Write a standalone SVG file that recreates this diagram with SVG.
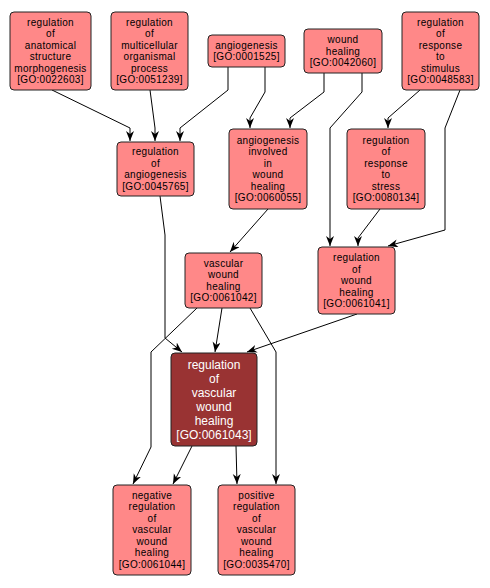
<svg xmlns="http://www.w3.org/2000/svg" width="490" height="588" viewBox="0 0 490 588">
<style>
.n rect{fill:#ff8888;stroke:#222;stroke-width:1}
.d rect{fill:#993333;stroke:#222;stroke-width:1}
.n text{font-family:"Liberation Sans",Arial,sans-serif;font-size:10px;fill:#000;text-anchor:middle;letter-spacing:0.3px}
.d text{font-family:"Liberation Sans",Arial,sans-serif;font-size:12px;fill:#fff;text-anchor:middle}
#edges path{fill:none;stroke:#000;stroke-width:1;marker-end:url(#ah)}
</style>
<defs>
<marker id="ah" markerUnits="userSpaceOnUse" markerWidth="12" markerHeight="10" refX="10" refY="4" orient="auto" viewBox="0 0 12 10">
<path d="M0,0 L10,4 L0,8 L3,4 z" fill="#000"/>
</marker>
</defs>
<rect width="490" height="588" fill="#fff"/>
<g id="edges">
<path d="M52,90 L130,128 L130,141"/>
<path d="M150,90 L155,128 L155,141"/>
<path d="M228,67 L228,90 L180,128 L180,141"/>
<path d="M265,67 L265,92 L250,118 L250,128"/>
<path d="M324,73 L324,92 L290,118 L290,128"/>
<path d="M362,73 L362,92 L330,128 L330,246"/>
<path d="M420,90 L388,118 L388,128"/>
<path d="M460,90 L445,128 L445,230 L388,246"/>
<path d="M380,209 L358,238 L358,246"/>
<path d="M268,209 L230,252"/>
<path d="M160,196 L165,235 L165,338 L182,352"/>
<path d="M222,308 L215,352"/>
<path d="M357,314 L247,352"/>
<path d="M197,308 L151,352 L151,447 L133,484"/>
<path d="M250,308 L276,352 L276,484"/>
<path d="M192,446 L173,484"/>
<path d="M236,446 L237,484"/>
</g>
<g id="n1" class="n"><rect x="10" y="12" width="81" height="78" rx="4"/>
<text x="50.5" y="25.75">regulation</text><text x="50.5" y="37.25">of</text><text x="50.5" y="48.75">anatomical</text><text x="50.5" y="60.25">structure</text><text x="50.5" y="71.75">morphogenesis</text><text x="50.5" y="83.25">[GO:0022603]</text></g>
<g id="n2" class="n"><rect x="111" y="12" width="77" height="78" rx="4"/>
<text x="149.5" y="25.75">regulation</text><text x="149.5" y="37.25">of</text><text x="149.5" y="48.75">multicellular</text><text x="149.5" y="60.25">organismal</text><text x="149.5" y="71.75">process</text><text x="149.5" y="83.25">[GO:0051239]</text></g>
<g id="n3" class="n"><rect x="208" y="35" width="77" height="32" rx="4"/>
<text x="246.5" y="48.75">angiogenesis</text><text x="246.5" y="60.25">[GO:0001525]</text></g>
<g id="n4" class="n"><rect x="304" y="29" width="78" height="44" rx="4"/>
<text x="343" y="43">wound</text><text x="343" y="54.5">healing</text><text x="343" y="66">[GO:0042060]</text></g>
<g id="n5" class="n"><rect x="402" y="12" width="77" height="78" rx="4"/>
<text x="440.5" y="25.75">regulation</text><text x="440.5" y="37.25">of</text><text x="440.5" y="48.75">response</text><text x="440.5" y="60.25">to</text><text x="440.5" y="71.75">stimulus</text><text x="440.5" y="83.25">[GO:0048583]</text></g>
<g id="n6" class="n"><rect x="117" y="142" width="77" height="54" rx="4"/>
<text x="155.5" y="155.25">regulation</text><text x="155.5" y="166.75">of</text><text x="155.5" y="178.25">angiogenesis</text><text x="155.5" y="189.75">[GO:0045765]</text></g>
<g id="n7" class="n"><rect x="229" y="129" width="78" height="80" rx="4"/>
<text x="268" y="143.75">angiogenesis</text><text x="268" y="155.25">involved</text><text x="268" y="166.75">in</text><text x="268" y="178.25">wound</text><text x="268" y="189.75">healing</text><text x="268" y="201.25">[GO:0060055]</text></g>
<g id="n8" class="n"><rect x="347" y="129" width="78" height="80" rx="4"/>
<text x="386" y="143.75">regulation</text><text x="386" y="155.25">of</text><text x="386" y="166.75">response</text><text x="386" y="178.25">to</text><text x="386" y="189.75">stress</text><text x="386" y="201.25">[GO:0080134]</text></g>
<g id="n9" class="n"><rect x="185" y="253" width="77" height="55" rx="4"/>
<text x="223.5" y="266.75">vascular</text><text x="223.5" y="278.25">wound</text><text x="223.5" y="289.75">healing</text><text x="223.5" y="301.25">[GO:0061042]</text></g>
<g id="n10" class="n"><rect x="318" y="247" width="77" height="67" rx="4"/>
<text x="356.5" y="261">regulation</text><text x="356.5" y="272.5">of</text><text x="356.5" y="284">wound</text><text x="356.5" y="295.5">healing</text><text x="356.5" y="307">[GO:0061041]</text></g>
<g id="n11" class="d"><rect x="171" y="353" width="86" height="93" rx="4"/>
<text x="214" y="369">regulation</text><text x="214" y="383">of</text><text x="214" y="397">vascular</text><text x="214" y="411">wound</text><text x="214" y="425">healing</text><text x="214" y="439">[GO:0061043]</text></g>
<g id="n12" class="n"><rect x="113" y="485" width="78" height="90" rx="4"/>
<text x="152" y="498.75">negative</text><text x="152" y="510.25">regulation</text><text x="152" y="521.75">of</text><text x="152" y="533.25">vascular</text><text x="152" y="544.75">wound</text><text x="152" y="556.25">healing</text><text x="152" y="567.75">[GO:0061044]</text></g>
<g id="n13" class="n"><rect x="218" y="485" width="77" height="90" rx="4"/>
<text x="256.5" y="498.75">positive</text><text x="256.5" y="510.25">regulation</text><text x="256.5" y="521.75">of</text><text x="256.5" y="533.25">vascular</text><text x="256.5" y="544.75">wound</text><text x="256.5" y="556.25">healing</text><text x="256.5" y="567.75">[GO:0035470]</text></g>
</svg>
